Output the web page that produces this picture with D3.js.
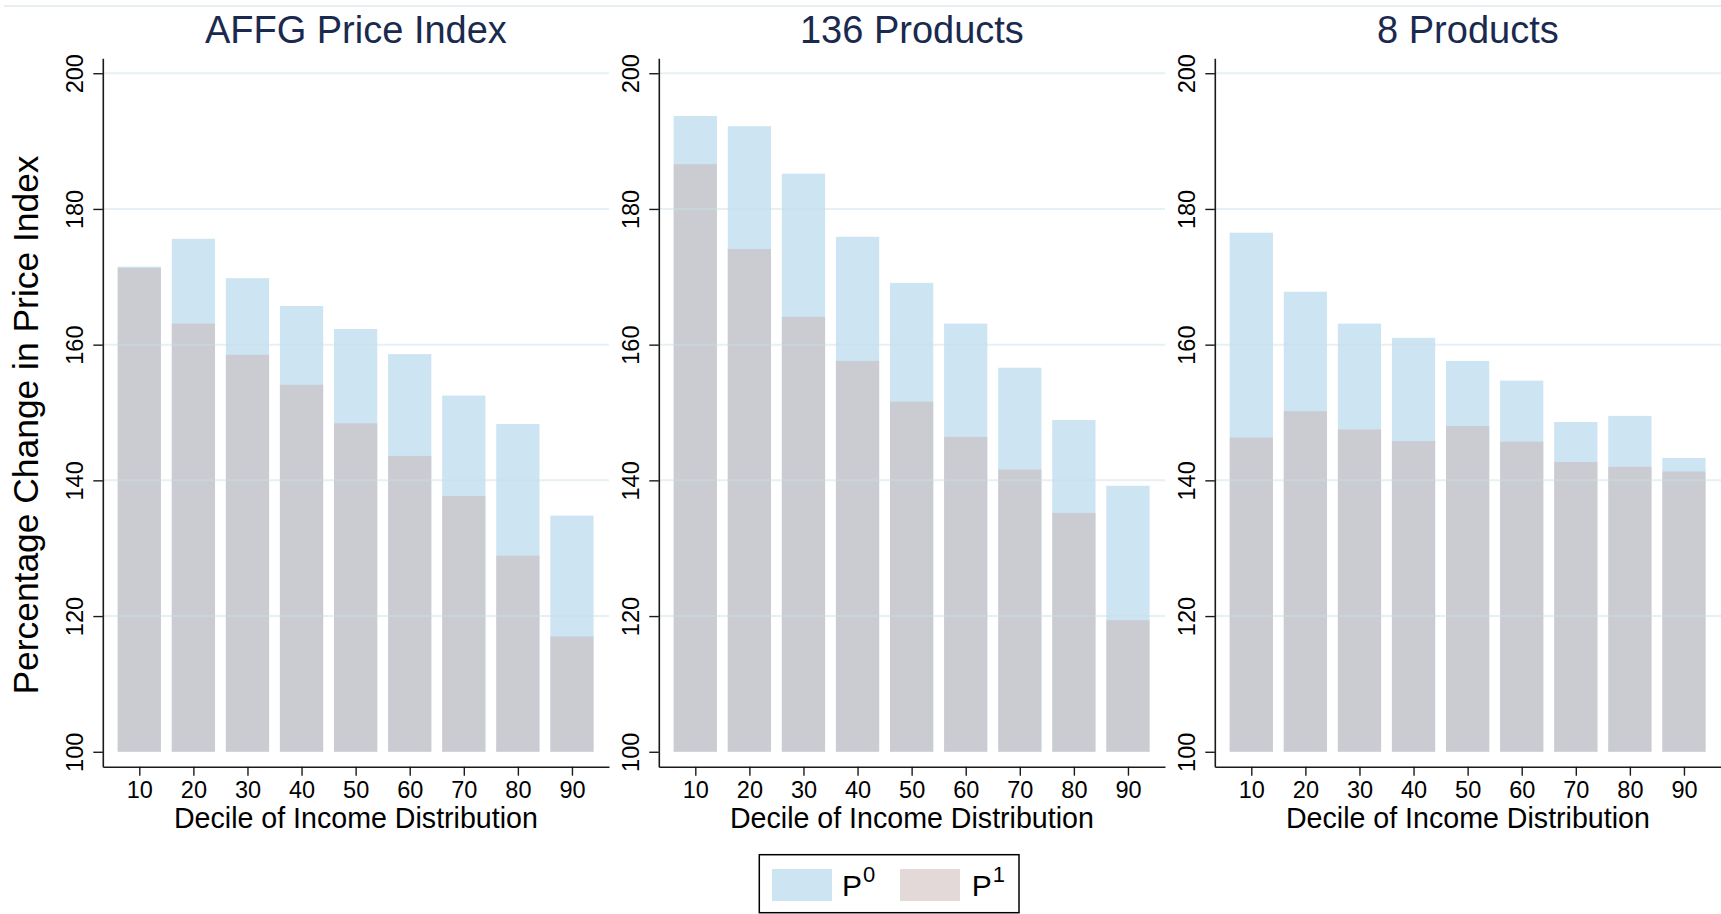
<!DOCTYPE html>
<html><head><meta charset="utf-8">
<script src="https://cdn.jsdelivr.net/npm/d3@7"></script>
<style>
html,body{margin:0;padding:0;background:#fff;}
svg{display:block;}
text{font-family:"Liberation Sans",Arial,Helvetica,sans-serif;}
</style>
</head><body>
<svg id="chart" width="1721" height="914"></svg>
<script>
// ---- data ----
const deciles = [10, 20, 30, 40, 50, 60, 70, 80, 90];
const affgP0 = [171.5, 175.6, 169.8, 165.7, 162.3, 158.6, 152.5, 148.3, 134.8];
const affgP1 = [171.3, 163.1, 158.5, 154.1, 148.4, 143.6, 137.7, 128.9, 117.0];
const p136P0 = [193.7, 192.2, 185.2, 175.9, 169.1, 163.1, 156.6, 148.9, 139.2];
const p136P1 = [186.6, 174.1, 164.1, 157.6, 151.6, 146.4, 141.6, 135.2, 119.4];
const p8P0 = [176.5, 167.8, 163.1, 161.0, 157.6, 154.7, 148.6, 149.5, 143.3];
const p8P1 = [146.3, 150.2, 147.5, 145.8, 148.0, 145.7, 142.7, 142.0, 141.3];
const yTicks = [100, 120, 140, 160, 180, 200];
const panelTitles = ["AFFG Price Index", "136 Products", "8 Products"];
const seriesBase = ["P", "P"];
const seriesSup = ["0", "1"];
const xTitle = "Decile of Income Distribution";
const yTitle = "Percentage Change in Price Index";

const panels = [
  {title: panelTitles[0], p0: affgP0, p1: affgP1},
  {title: panelTitles[1], p0: p136P0, p1: p136P1},
  {title: panelTitles[2], p0: p8P0, p1: p8P1}
];

// ---- layout ----
const svg = d3.select("#chart");
const panelW = 506.2, panelStep = 556, firstLeft = 102.8;
const yTop = 58.3, yBot = 766.7;
const colP0 = "#cde4f3";
const colP1 = "rgb(200,183,181)", opP1 = 0.53;
const titleCol = "#1a2a4f";

// faint top rule
svg.append("line").attr("x1", 4).attr("x2", 1721).attr("y1", 6).attr("y2", 6)
  .attr("stroke", "#e6eef1").attr("stroke-width", 2);

const x = d3.scaleLinear().domain([3.25, 96.85]).range([0, panelW]);
const y = d3.scaleLinear().domain([97.8, 202.2]).range([yBot, yTop]);
const halfBar = 4;

panels.forEach((p, i) => {
  const L = firstLeft + panelStep * i;
  const g = svg.append("g").attr("transform", `translate(${L},0)`);

  // P0 bars
  g.selectAll("rect.p0").data(deciles.map((d, k) => ({d, v: p.p0[k]})))
    .join("rect").attr("class", "p0")
    .attr("x", e => x(e.d - halfBar)).attr("width", e => x(e.d + halfBar) - x(e.d - halfBar))
    .attr("y", e => y(e.v)).attr("height", e => y(100) - y(e.v))
    .attr("fill", colP0);
  // P1 bars
  g.selectAll("rect.p1").data(deciles.map((d, k) => ({d, v: p.p1[k]})))
    .join("rect").attr("class", "p1")
    .attr("x", e => x(e.d - halfBar)).attr("width", e => x(e.d + halfBar) - x(e.d - halfBar))
    .attr("y", e => y(e.v)).attr("height", e => y(100) - y(e.v))
    .attr("fill", colP1).attr("fill-opacity", opP1);

  // gridlines (over bars, translucent)
  g.selectAll("line.grid").data(yTicks.filter(t => t > 100))
    .join("line").attr("class", "grid")
    .attr("x1", 0).attr("x2", panelW)
    .attr("y1", t => y(t)).attr("y2", t => y(t))
    .attr("stroke", "#c9dde6").attr("stroke-opacity", 0.45).attr("stroke-width", 2);

  // y axis
  const ya = g.append("g").call(d3.axisLeft(y).tickValues(yTicks).tickSize(9.5).tickSizeOuter(0));
  ya.select(".domain").attr("stroke", "#1a1a1a").attr("stroke-width", 1.6);
  ya.selectAll(".tick line").attr("stroke", "#1a1a1a").attr("stroke-width", 1.4);
  ya.selectAll(".tick text")
    .attr("transform", "rotate(-90)")
    .attr("x", 0).attr("y", -20).attr("dy", 0)
    .style("text-anchor", "middle")
    .style("font-size", "23.5px").attr("fill", "#000")
    .style("font-family", '"Liberation Sans",Arial,sans-serif');

  // x axis
  const xa = g.append("g").attr("transform", `translate(0,${yBot})`)
    .call(d3.axisBottom(x).tickValues(deciles).tickSize(9).tickSizeOuter(0).tickPadding(6));
  xa.select(".domain").attr("stroke", "#1a1a1a").attr("stroke-width", 1.6);
  xa.selectAll(".tick line").attr("stroke", "#1a1a1a").attr("stroke-width", 1.4);
  xa.selectAll(".tick text").style("font-size", "23.5px").attr("fill", "#000")
    .style("font-family", '"Liberation Sans",Arial,sans-serif');

  // titles
  g.append("text").attr("x", panelW / 2).attr("y", 43.3)
    .attr("text-anchor", "middle").style("font-size", "38px").attr("fill", titleCol)
    .text(p.title);
  g.append("text").attr("x", panelW / 2).attr("y", 827.5)
    .attr("text-anchor", "middle").style("font-size", "28.6px").attr("fill", "#000")
    .text(xTitle);
});

// y title
svg.append("text").attr("transform", "translate(38,425) rotate(-90)")
  .attr("text-anchor", "middle").style("font-size", "35.4px").attr("fill", "#000")
  .text(yTitle);

// legend
const lg = svg.append("g");
lg.append("rect").attr("x", 759.3).attr("y", 854.7).attr("width", 259.7).attr("height", 58)
  .attr("fill", "#fff").attr("stroke", "#000").attr("stroke-width", 1.5);
const legItems = [
  {sx: 772, tx: 842, fill: colP0, op: 1},
  {sx: 900, tx: 971.7, fill: colP1, op: opP1}
];
legItems.forEach((it, k) => {
  lg.append("rect").attr("x", it.sx).attr("y", 869).attr("width", 60).attr("height", 32)
    .attr("fill", it.fill).attr("fill-opacity", it.op);
  const t = lg.append("text").attr("x", it.tx).attr("y", 896).style("font-size", "30px").attr("fill", "#000");
  t.append("tspan").text(seriesBase[k]);
  t.append("tspan").attr("dy", -14).attr("dx", 1).style("font-size", "22px").text(seriesSup[k]);
});
</script>
</body></html>
